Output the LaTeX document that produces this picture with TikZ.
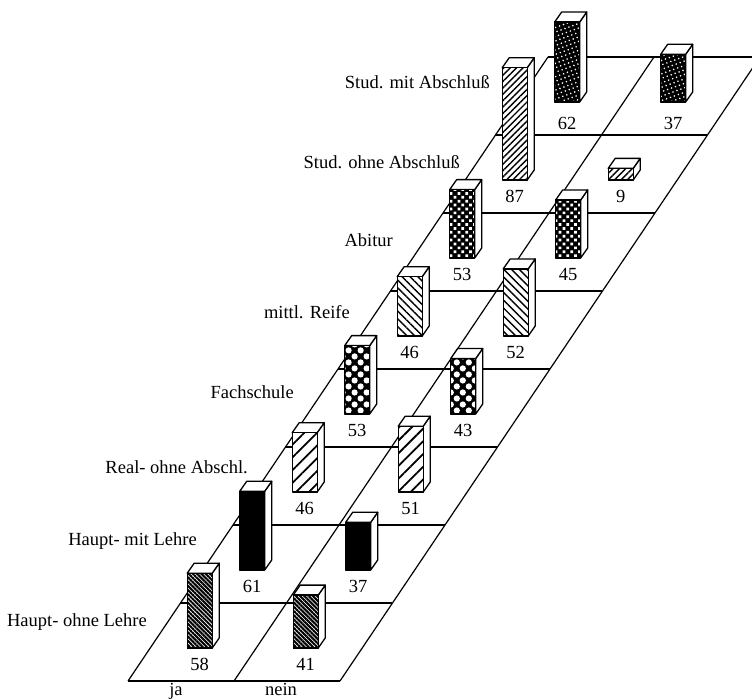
\documentclass[tikz,border=0pt]{standalone}
\usepackage{fontspec}
\setmainfont{Liberation Serif}
\usetikzlibrary{patterns.meta}
\tikzset{
  grid/.style={line width=1.2pt, black},
  barline/.style={line width=1.3pt, black, line join=round},
  barface/.style={fill=white, draw=black, line width=1.3pt, line join=round},
  numlab/.style={inner sep=0pt, font=\fontsize{18.5}{22}\selectfont},
  rowlab/.style={inner sep=0pt, anchor=base east, font=\fontsize{18.5}{22}\selectfont},
  collab/.style={inner sep=0pt, anchor=base, font=\fontsize{18.5}{22}\selectfont},
  patA/.style={pattern={Lines[angle=-45,distance=3pt,line width=2.1pt]}},
  patB/.style={fill=black},
  patC/.style={pattern={Lines[angle=45,distance=9pt,line width=1.8pt]}},
  patD/.style={fill=black, postaction={pattern={Dots[radius=3.1pt,distance=8.5pt,angle=45]}, pattern color=white}},
  patE/.style={pattern={Lines[angle=-45,distance=5.5pt,line width=1.4pt]}},
  patF/.style={fill=black, postaction={pattern={Dots[radius=1.9pt,distance=5.5pt,angle=45]}, pattern color=white}},
  patG/.style={pattern={Lines[angle=45,distance=4.5pt,line width=1.4pt]}},
  patH/.style={fill=black, postaction={pattern={Dots[radius=0.9pt,distance=4.2pt,angle=20]}, pattern color=white}},
}
\newcommand{\qbar}[5]{%
  \pgfmathsetmacro{\qyb}{681-78*#1-33}%
  \pgfmathsetmacro{\qxc}{128+(681-\qyb)*0.673+53+106*#2-3.5}%
  \pgfmathsetmacro{\qh}{#3*1.29}%
  \pgfmathsetmacro{\qxl}{\qxc-12.5}%
  \pgfmathsetmacro{\qxr}{\qxc+12.5}%
  \pgfmathsetmacro{\qyt}{\qyb-\qh}%
  \filldraw[barface] (\qxr,\qyb) -- (\qxr+7,\qyb-10) -- (\qxr+7,\qyt-10) -- (\qxr,\qyt) -- cycle;
  \filldraw[barface] (\qxl,\qyt) -- (\qxr,\qyt) -- (\qxr+7,\qyt-10) -- (\qxl+7,\qyt-10) -- cycle;
  \fill[white] (\qxl,\qyb) rectangle (\qxr,\qyt);
  \path[#4] (\qxl,\qyb) rectangle (\qxr,\qyt);
  \draw[barline] (\qxl,\qyb) rectangle (\qxr,\qyt);
  \ifnum#1=7 \def\qlo{21}\else\def\qlo{16}\fi
  \node[numlab] (#5) at (\qxc,\qyb+\qlo) {#3};
}
\begin{document}
\begin{tikzpicture}[x=1pt,y=-1pt]
\useasboundingbox (0,0) rectangle (752,699);
\clip (0,0) rectangle (752,699);
% board
\coordinate (BL) at (128,681);
\coordinate (BM) at (234,681);
\coordinate (BR) at (340,681);
\coordinate (TL) at (548,57);
\coordinate (TM) at (654,57);
\coordinate (TR) at (760,57);
\draw[grid] (BL) -- (TL);
\draw[grid] (BM) -- (TM);
\draw[grid] (BR) -- (TR);
\foreach \k in {0,...,8} {
  \draw[grid] ({128+52.494*\k},{681-78*\k}) -- ({340+52.494*\k},{681-78*\k});
}
% bars, back to front
\qbar{7}{0}{62}{patH}{n70}
\qbar{7}{1}{37}{patH}{n71}
\qbar{6}{0}{87}{patG}{n60}
\qbar{6}{1}{9}{patG}{n61}
\qbar{5}{0}{53}{patF}{n50}
\qbar{5}{1}{45}{patF}{n51}
\qbar{4}{0}{46}{patE}{n40}
\qbar{4}{1}{52}{patE}{n41}
\qbar{3}{0}{53}{patD}{n30}
\qbar{3}{1}{43}{patD}{n31}
\qbar{2}{0}{46}{patC}{n20}
\qbar{2}{1}{51}{patC}{n21}
\qbar{1}{0}{61}{patB}{n10}
\qbar{1}{1}{37}{patB}{n11}
\qbar{0}{0}{58}{patA}{n00}
\qbar{0}{1}{41}{patA}{n01}
% row labels
\node[rowlab] (r7) at (490,88) {Stud. mit Abschluß};
\node[rowlab] (r6) at (460,168) {Stud. ohne Abschluß};
\node[rowlab] (r5) at (393,246) {Abitur};
\node[rowlab] (r4) at (350,318) {mittl. Reife};
\node[rowlab] (r3) at (294,398) {Fachschule};
\node[rowlab] (r2) at (248,473) {Real- ohne Abschl.};
\node[rowlab] (r1) at (197,545) {Haupt- mit Lehre};
\node[rowlab] (r0) at (147,626) {Haupt- ohne Lehre};
% column labels
\node[collab] (cja) at (176,695) {ja};
\node[collab] (cnein) at (281,695) {nein};
\end{tikzpicture}
\end{document}
